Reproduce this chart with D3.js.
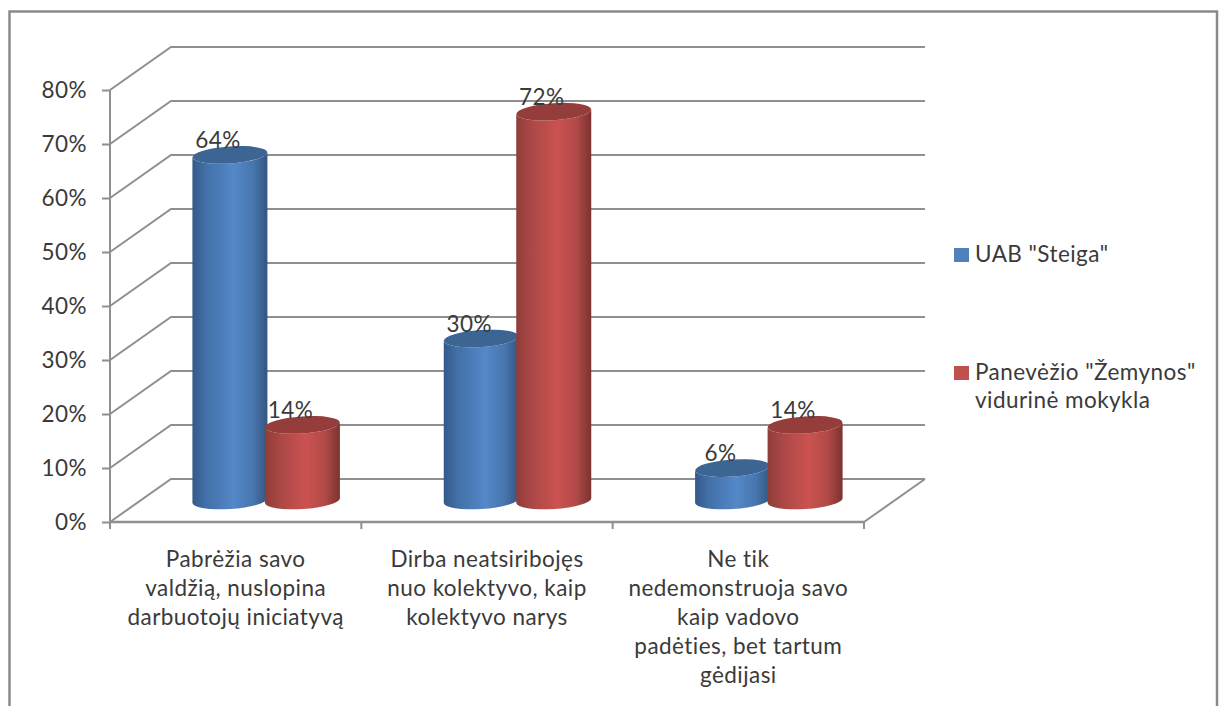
<!DOCTYPE html>
<html>
<head>
<meta charset="utf-8">
<script src="https://cdn.jsdelivr.net/npm/d3@7"></script>
<style>
  html, body { margin: 0; padding: 0; background: #fff; overflow: hidden; }
  svg text { font-family: Lato, "Noto Sans", sans-serif; fill: #3a3a3a; letter-spacing: 0.45px; }
</style>
</head>
<body>
<svg id="chart" width="1224" height="706"></svg>
<script>
const categories = ["cat1", "cat2", "cat3"];
const categoryLines = [
  ["Pabrėžia savo", "valdžią, nuslopina", "darbuotojų iniciatyvą"],
  ["Dirba neatsiribojęs", "nuo kolektyvo, kaip", "kolektyvo narys"],
  ["Ne tik", "nedemonstruoja savo", "kaip vadovo", "padėties, bet tartum", "gėdijasi"]
];
const seriesNames = ["UAB \"Steiga\"", "Panevėžio \"Žemynos\""];
const steigaValues = [64, 30, 6];
const zemynosValues = [14, 72, 14];
const yTicks = [0, 10, 20, 30, 40, 50, 60, 70, 80];

const svg = d3.select("#chart");
const grid = "#8f8f8f";
const fontSize = 22.5;

// Outer chart border, open at the bottom edge of the page
svg.append("path")
  .attr("d", "M9.5,706V11.5H1217V706")
  .attr("fill", "none").attr("stroke", "#8a8a8a").attr("stroke-width", 2.5);

const y = d3.scaleLinear().domain([0, 80]).range([522, 90]);
const x = d3.scaleBand().domain(categories).range([110, 864]);
const depth = { dx: 61, dy: -43 };
const barWidth = 75;
const series = d3.scaleBand().domain([0, 1]).range([-72.5, 72.5]);

// Back wall and side wall gridlines
const gridG = svg.append("g").attr("fill", "none").attr("stroke", grid).attr("stroke-width", 2);
gridG.selectAll("path.wall").data(yTicks).join("path")
  .attr("class", "wall")
  .attr("d", t => `M${x.range()[0]},${y(t)}l${depth.dx},${depth.dy}H${x.range()[1] + depth.dx}`);
gridG.append("path")
  .attr("d", `M${x.range()[1]},${y(0)}l${depth.dx},${depth.dy}`);

// Value axis
const yAxis = svg.append("g")
  .attr("transform", `translate(${x.range()[0]},0)`)
  .call(d3.axisLeft(y).tickValues(yTicks).tickSize(8).tickPadding(15).tickFormat(d => d + "%"));
yAxis.selectAll("path,line").attr("stroke", grid).attr("stroke-width", 2);
yAxis.select(".domain").attr("d", `M0,${y(80)}V${y(0) + 7}`);
yAxis.selectAll("text").attr("font-size", fontSize).attr("dy", "0.34em")
  .style("font-family", "Lato, 'Noto Sans', sans-serif").style("fill", "#3a3a3a");

// Category axis: ticks sit on the band edges, labels are wrapped by hand
const xAxis = svg.append("g");
xAxis.append("line")
  .attr("x1", x.range()[0]).attr("x2", x.range()[1])
  .attr("y1", y(0)).attr("y2", y(0))
  .attr("stroke", grid).attr("stroke-width", 2.5);
xAxis.selectAll("line.tick").data([x(categories[0]), x(categories[1]), x(categories[2]), x.range()[1]]).join("line")
  .attr("class", "tick")
  .attr("x1", d => d).attr("x2", d => d)
  .attr("y1", y(0)).attr("y2", y(0) + 7)
  .attr("stroke", grid).attr("stroke-width", 2);
categories.forEach((c, i) => {
  const t = svg.append("text")
    .attr("text-anchor", "middle")
    .attr("font-size", fontSize);
  categoryLines[i].forEach((line, j) => {
    t.append("tspan")
      .attr("x", x(c) + x.bandwidth() / 2)
      .attr("y", 567 + j * 29)
      .text(line);
  });
});

// Cylinder shading
const defs = svg.append("defs");
function shading(id, stops) {
  const g = defs.append("linearGradient").attr("id", id);
  stops.forEach(([o, c]) => g.append("stop").attr("offset", o).attr("stop-color", c));
}
shading("sideBlue", [[0, "#34598a"], [0.18, "#4270a8"], [0.55, "#5488c8"], [0.8, "#4877b0"], [1, "#335680"]]);
shading("sideRed", [[0, "#8f3c39"], [0.2, "#aa4846"], [0.55, "#cb5250"], [0.8, "#b14a48"], [1, "#7b3230"]]);

const tiltDeg = -3.8;
const tilt = Math.tan(tiltDeg * Math.PI / 180);
const ry = 8.5;
const floorY = (y(0) + y(0) + depth.dy) / 2;

function drawCylinder(g, cx, value, side, cap) {
  const rx = barWidth / 2;
  const top = floorY - (y(0) - y(value));
  const rise = rx * tilt;
  const lx = cx - rx, rxx = cx + rx;
  const body = `M${lx},${top - rise}V${floorY - rise}` +
    `A${rx},${ry} ${tiltDeg} 0 0 ${rxx},${floorY + rise}` +
    `V${top + rise}A${rx},${ry} ${tiltDeg} 0 1 ${lx},${top - rise}Z`;
  g.append("path").attr("d", body).attr("fill", `url(#${side})`);
  g.append("ellipse")
    .attr("rx", rx).attr("ry", ry)
    .attr("transform", `translate(${cx},${top}) rotate(${tiltDeg})`)
    .attr("fill", cap);
  return top;
}

const barsG = svg.append("g");
const labels = [];
[[steigaValues, "sideBlue", "#3d6594"], [zemynosValues, "sideRed", "#943d3a"]].forEach(([vals, side, cap], s) => {
  vals.forEach((v, i) => {
    const cx = x(categories[i]) + x.bandwidth() / 2 + depth.dx / 2 + series(s) + series.bandwidth() / 2;
    const top = drawCylinder(barsG, cx, v, side, cap);
    labels.push({ x: cx - 12, y: top - 7, t: v + "%" });
  });
});
svg.append("g").selectAll("text").data(labels).join("text")
  .attr("x", d => d.x).attr("y", d => d.y)
  .attr("text-anchor", "middle").attr("font-size", fontSize)
  .text(d => d.t);

// Legend
const legend = svg.append("g");
legend.append("rect").attr("x", 954).attr("y", 248).attr("width", 15).attr("height", 14).attr("fill", "#4f81bd");
legend.append("rect").attr("x", 954).attr("y", 366).attr("width", 15).attr("height", 14).attr("fill", "#c0504d");
legend.append("text").attr("x", 975).attr("y", 262).attr("font-size", fontSize).text(seriesNames[0]);
legend.append("text").attr("x", 975).attr("y", 380).attr("font-size", fontSize).text(seriesNames[1]);
legend.append("text").attr("x", 975).attr("y", 408).attr("font-size", fontSize).text("vidurinė mokykla");
</script>
</body>
</html>
